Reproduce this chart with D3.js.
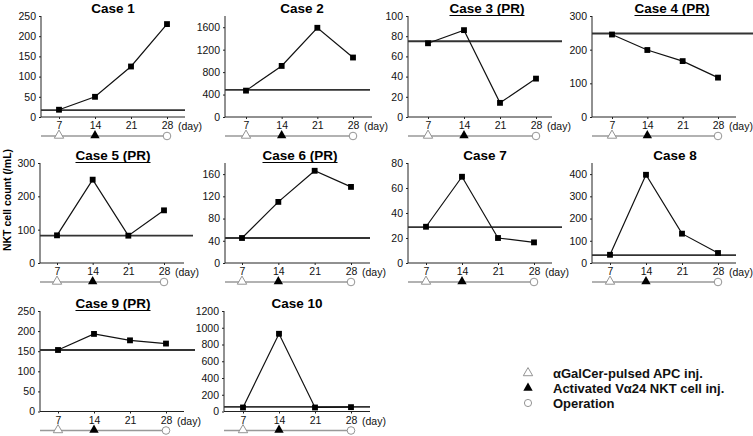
<!DOCTYPE html>
<html>
<head>
<meta charset="utf-8">
<script src="https://cdn.jsdelivr.net/npm/d3@7"></script>
<style>
html,body{margin:0;padding:0;background:#fff;}
svg{display:block;font-family:"Liberation Sans",Arial,Helvetica,sans-serif;}
</style>
</head>
<body>
<svg id="chart" width="753" height="436"></svg>
<script>
// ---- data ----
const days = [7, 14, 21, 28];
const titles = ["Case 1","Case 2","Case 3 (PR)","Case 4 (PR)","Case 5 (PR)","Case 6 (PR)","Case 7","Case 8","Case 9 (PR)","Case 10"];
const underlined = [false,false,true,true,true,true,false,false,true,false];
const case1 = [18, 50, 125, 230];
const case2 = [470, 910, 1590, 1060];
const case3 = [73, 86, 14, 38];
const case4 = [245, 199, 166, 117];
const case5 = [83, 250, 82, 158];
const case6 = [45, 110, 166, 137];
const case7 = [29, 69, 20, 16.5];
const case8 = [37, 397, 132, 45];
const case9 = [153, 193, 177, 169];
const case10 = [48, 928, 48, 52];
const seriesValues = [case1,case2,case3,case4,case5,case6,case7,case8,case9,case10];
const baselines = [17, 485, 75, 248, 82, 45, 28.7, 35, 153, 55];
const yMax = [250, 1800, 100, 300, 300, 180, 80, 450, 250, 1200];
const yTicks = [
  [0,50,100,150,200,250],
  [0,400,800,1200,1600],
  [0,20,40,60,80,100],
  [0,100,200,300],
  [0,100,200,300],
  [0,40,80,120,160],
  [0,20,40,60,80],
  [0,100,200,300,400],
  [0,50,100,150,200,250],
  [0,200,400,600,800,1000,1200]
];
const xUnitLabel = "(day)";
const yAxisLabel = "NKT cell count (/mL)";
const legendLabels = ["\u03b1GalCer-pulsed APC inj.", "Activated V\u03b124 NKT cell inj.", "Operation"];
const eventDays = {apc: 7, nkt: 14, op: 28};

// ---- layout (positions only) ----
const layout = [
  {ax:41,  top:16,  bot:117,   x7:59,  x28:167, xEnd:185, bEnd:185, tx:113},
  {ax:225, top:16,  bot:117,   x7:246, x28:353, xEnd:372, bEnd:370, tx:302},
  {ax:408, top:16,  bot:117,   x7:428, x28:536, xEnd:552, bEnd:562, tx:487},
  {ax:592, top:16,  bot:117,   x7:612, x28:718, xEnd:736, bEnd:753, tx:672},
  {ax:40,  top:163, bot:263,   x7:57,  x28:164, xEnd:184, bEnd:193, tx:113},
  {ax:225, top:163, bot:263,   x7:242, x28:351, xEnd:370, bEnd:370, tx:300},
  {ax:408, top:163, bot:263,   x7:426, x28:534, xEnd:552, bEnd:562, tx:485},
  {ax:592, top:163, bot:263,   x7:610, x28:718, xEnd:736, bEnd:736, tx:675},
  {ax:40,  top:311, bot:411.5, x7:58,  x28:166, xEnd:184, bEnd:195, tx:113},
  {ax:224, top:311, bot:411.5, x7:243, x28:351, xEnd:370, bEnd:370, tx:297}
];

const svg = d3.select("#chart");
const tri = d3.symbol().type(d3.symbolTriangle).size(38);
const sq = d3.symbol().type(d3.symbolSquare).size(34);
const fmt = d3.format("d");

layout.forEach((L, i) => {
  const g = svg.append("g");
  const x = d3.scaleLinear().domain([7, 28]).range([L.x7, L.x28]);
  const y = d3.scaleLinear().domain([0, yMax[i]]).range([L.bot, L.top]);

  // y axis
  const ya = g.append("g").attr("transform", `translate(${L.ax},0)`)
    .call(d3.axisLeft(y).tickValues(yTicks[i]).tickFormat(fmt).tickSize(2).tickSizeOuter(0).tickPadding(3));
  ya.select(".domain").remove();
  ya.selectAll("line").attr("stroke", "#222");
  ya.selectAll("text").attr("font-size", "10.5px").attr("fill", "#111").attr("font-family", null);
  g.append("line").attr("x1", L.ax).attr("x2", L.ax).attr("y1", L.top).attr("y2", L.bot)
    .attr("stroke", "#222").attr("stroke-width", 1);

  // x axis
  const xa = g.append("g").attr("transform", `translate(0,${L.bot})`)
    .call(d3.axisBottom(x).tickValues(days).tickFormat(fmt).tickSize(2).tickSizeOuter(0).tickPadding(3));
  xa.select(".domain").remove();
  xa.selectAll("line").attr("stroke", "#222");
  xa.selectAll("text").attr("font-size", "10.5px").attr("fill", "#111").attr("font-family", null);
  g.append("line").attr("x1", L.ax).attr("x2", L.xEnd).attr("y1", L.bot).attr("y2", L.bot)
    .attr("stroke", "#222").attr("stroke-width", 1);
  g.append("text").attr("x", x(28) + 11).attr("y", L.bot + 13)
    .attr("font-size", "10.5px").attr("fill", "#111").text(xUnitLabel);

  // baseline (pre-treatment level)
  g.append("line").attr("x1", L.ax).attr("x2", L.bEnd)
    .attr("y1", y(baselines[i])).attr("y2", y(baselines[i]))
    .attr("stroke", "#333").attr("stroke-width", 1.8);

  // data line
  const pts = days.map((d, k) => [d, seriesValues[i][k]]);
  g.append("path").datum(pts)
    .attr("d", d3.line().x(d => x(d[0])).y(d => y(d[1])))
    .attr("fill", "none").attr("stroke", "#111").attr("stroke-width", 1.2);
  g.selectAll(".pt").data(pts).enter().append("path")
    .attr("transform", d => `translate(${x(d[0])},${y(d[1])})`)
    .attr("d", sq).attr("fill", "#000");

  // title
  const tBase = L.top - 3;
  const t = g.append("text").attr("x", L.tx).attr("y", tBase)
    .attr("text-anchor", "middle").attr("font-weight", "bold").attr("font-size", "13.5px")
    .attr("fill", "#000").text(titles[i]);
  if (underlined[i]) {
    const w = t.node().getComputedTextLength();
    g.append("line").attr("x1", L.tx - w / 2).attr("x2", L.tx + w / 2)
      .attr("y1", tBase + 2.5).attr("y2", tBase + 2.5).attr("stroke", "#000").attr("stroke-width", 1.1);
  }

  // treatment timeline
  const ty = L.bot + 19;
  g.append("line").attr("x1", L.ax).attr("x2", x(eventDays.op)).attr("y1", ty).attr("y2", ty)
    .attr("stroke", "#999").attr("stroke-width", 1.6);
  g.append("path").attr("transform", `translate(${x(eventDays.apc)},${ty - 0.5})`).attr("d", tri)
    .attr("fill", "#fff").attr("stroke", "#888").attr("stroke-width", 0.9);
  g.append("path").attr("transform", `translate(${x(eventDays.nkt)},${ty - 0.5})`).attr("d", tri)
    .attr("fill", "#000");
  g.append("circle").attr("cx", x(eventDays.op)).attr("cy", ty).attr("r", 3.8)
    .attr("fill", "#fff").attr("stroke", "#888").attr("stroke-width", 0.9);
});

// y axis label
svg.append("text").attr("transform", "translate(11,200) rotate(-90)")
  .attr("text-anchor", "middle").attr("font-weight", "bold").attr("font-size", "10.5px")
  .attr("fill", "#000").text(yAxisLabel);

// legend
const lg = svg.append("g");
const legY = [373, 388, 403];
lg.append("path").attr("transform", `translate(528,${legY[0]})`).attr("d", tri)
  .attr("fill", "#fff").attr("stroke", "#888").attr("stroke-width", 0.9);
lg.append("path").attr("transform", `translate(528,${legY[1]})`).attr("d", tri).attr("fill", "#000");
lg.append("circle").attr("cx", 528).attr("cy", legY[2]).attr("r", 3.6)
  .attr("fill", "#fff").attr("stroke", "#888").attr("stroke-width", 0.9);
legendLabels.forEach((s, k) => {
  lg.append("text").attr("x", 553).attr("y", legY[k] + 4.5).attr("font-weight", "bold")
    .attr("font-size", "13px").attr("fill", "#111").text(s);
});
</script>
</body>
</html>
